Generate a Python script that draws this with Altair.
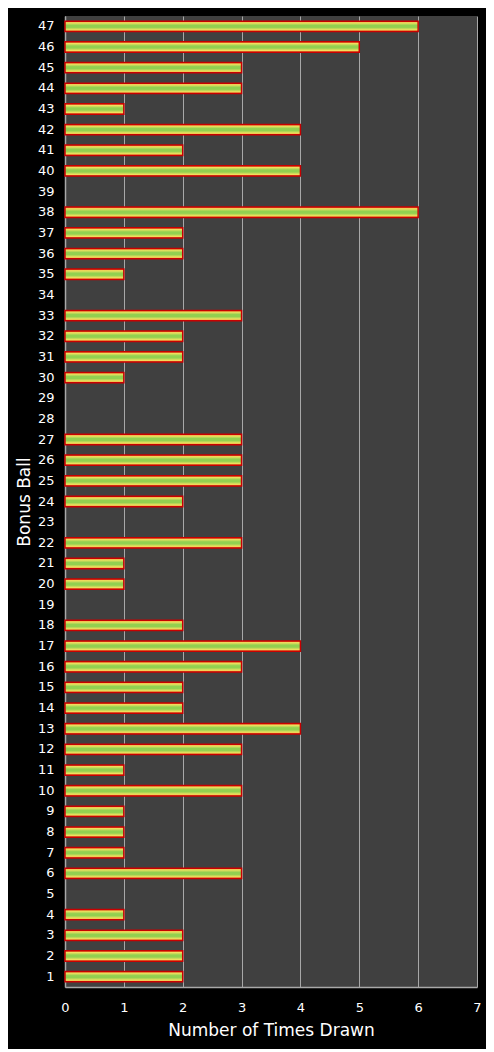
"""Bonus ball draw counts as a horizontal bar chart using Altair."""

import pandas as pd
import altair as alt

# Bonus ball numbers and how often each was drawn
BALLS = list(range(1, 48))
TIMES_DRAWN = [
    2, 2, 2, 1, 0, 3, 1, 1, 1, 3,   # 1-10
    1, 3, 4, 2, 2, 3, 4, 2, 0, 1,   # 11-20
    1, 3, 0, 2, 3, 3, 3, 0, 0, 1,   # 21-30
    2, 2, 3, 0, 1, 2, 2, 6, 0, 4,   # 31-40
    2, 4, 1, 3, 3, 5, 6,            # 41-47
]
X_TICKS = [0, 1, 2, 3, 4, 5, 6, 7]


def build_frame():
    df = pd.DataFrame({"ball": BALLS, "count": TIMES_DRAWN})
    df["ball"] = df["ball"].astype(str)
    # zero counts draw nothing in the original
    return df[df["count"] > 0]


def create_chart(df):
    bar_fill = alt.Gradient(
        gradient="linear",
        x1=0, x2=0, y1=0, y2=1,
        stops=[
            alt.GradientStop(offset=0, color="#f07828"),
            alt.GradientStop(offset=0.16, color="#f0e060"),
            alt.GradientStop(offset=0.4, color="#92d050"),
            alt.GradientStop(offset=0.6, color="#92d050"),
            alt.GradientStop(offset=0.84, color="#f0e060"),
            alt.GradientStop(offset=1, color="#f07828"),
        ],
    )

    y_order = [str(b) for b in reversed(BALLS)]

    chart = (
        alt.Chart(df)
        .mark_bar(fill=bar_fill, stroke="#c80000", strokeWidth=1.5)
        .encode(
            x=alt.X(
                "count:Q",
                title="Number of Times Drawn",
                scale=alt.Scale(domain=[0, 7], nice=False),
                axis=alt.Axis(
                    values=X_TICKS,
                    format="d",
                    grid=True,
                    gridColor="#a8a8a8",
                    gridWidth=1,
                    ticks=False,
                    labelFlush=False,
                    labelPadding=14,
                    titlePadding=8,
                ),
            ),
            y=alt.Y(
                "ball:N",
                title="Bonus Ball",
                sort=y_order,
                scale=alt.Scale(domain=y_order, paddingInner=0.5, paddingOuter=0.25),
                axis=alt.Axis(
                    ticks=False,
                    labelPadding=11,
                    titlePadding=4,
                    grid=False,
                ),
            ),
        )
        .properties(
            width=412,
            height=971,
            background="#000000",
            padding={"left": 57, "top": 8, "right": 9, "bottom": 62},
            autosize=alt.AutoSizeParams(type="none"),
        )
        .configure_view(fill="#404040", stroke=None)
        .configure_axis(
            labelColor="#ffffff",
            titleColor="#ffffff",
            labelFont="DejaVu Sans",
            titleFont="DejaVu Sans",
            labelFontSize=13,
            titleFontSize=17,
            titleFontWeight="normal",
            domainColor="#a8a8a8",
            domainWidth=1.5,
        )
    )
    return chart


def main():
    df = build_frame()
    chart = create_chart(df)
    chart.save("out.html", embed_options={"renderer": "svg", "actions": False})


if __name__ == "__main__":
    main()
